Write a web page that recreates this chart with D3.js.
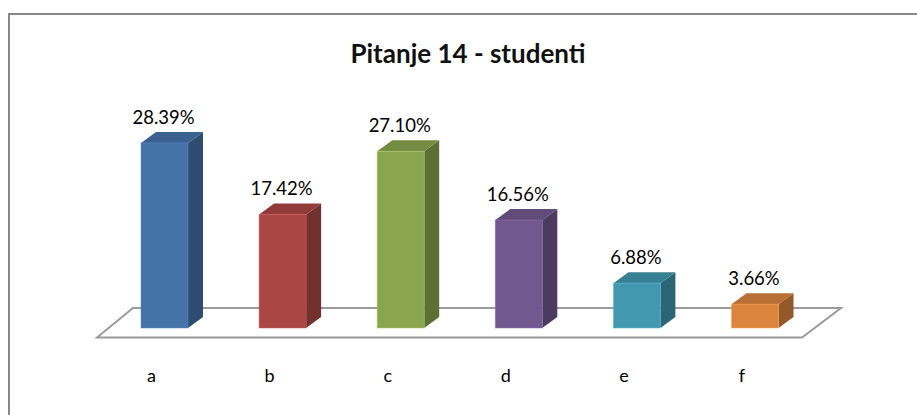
<!DOCTYPE html>
<html>
<head>
<meta charset="utf-8">
<script src="https://cdn.jsdelivr.net/npm/d3@7/dist/d3.min.js"></script>
<style>
  html, body { margin: 0; padding: 0; background: #fff; }
  svg { display: block; }
</style>
</head>
<body>
<svg id="chart" width="917" height="415"></svg>
<script>
// Survey answers for question 14 (students), share of responses in percent
const categories = ["a", "b", "c", "d", "e", "f"];
const values = [28.39, 17.42, 27.10, 16.56, 6.88, 3.66];
const frontColors = ["#4572A7", "#AA4643", "#89A54E", "#71588F", "#4198AF", "#DB843D"];
const sideColors  = ["#2E4C71", "#72302E", "#5C6F35", "#4C3B60", "#2C6676", "#945929"];
const topColors   = ["#3A6190", "#903B39", "#748C42", "#604B79", "#378195", "#BA7034"];
const titleText = "Pitanje 14 - studenti";

const svg = d3.select("#chart");

// chart frame (right and bottom edges run past the visible area)
svg.append("rect")
  .attr("x", 9).attr("y", 14)
  .attr("width", 940).attr("height", 420)
  .attr("fill", "#fff")
  .attr("stroke", "#888")
  .attr("stroke-width", 2);

// title
svg.append("text")
  .attr("x", 468).attr("y", 63)
  .attr("text-anchor", "middle")
  .attr("font-family", "Lato, 'Open Sans', sans-serif")
  .attr("font-weight", "bold")
  .attr("font-size", 26)
  .attr("fill", "#111")
  .text(titleText);

// scales
const x = d3.scalePoint().domain(categories).range([164.5, 755]);
const y = d3.scaleLinear().domain([0, 30]).range([328, 328 - 30 * 6.52]);
const barW = 47;
const dx = 15, dy = 11;   // depth of each 3D column

// floor plane
const floorFront = 337.5, floorBack = 308;
const floorPts = [[97, floorFront], [133, floorBack], [841, floorBack], [802, floorFront]];
svg.append("path")
  .attr("d", d3.line()(floorPts) + "Z")
  .attr("fill", "#fff")
  .attr("stroke", "#9a9a9a")
  .attr("stroke-width", 2)
  .attr("stroke-linejoin", "miter");

const data = categories.map((c, i) => ({ c, v: values[i], i }));

const bars = svg.append("g").selectAll("g.bar")
  .data(data)
  .join("g")
  .attr("class", "bar");

bars.each(function(d) {
  const g = d3.select(this);
  const x0 = x(d.c) - barW / 2, x1 = x0 + barW;
  const yt = y(d.v), yb = y(0);
  // side face
  g.append("path")
    .attr("d", d3.line()([[x1, yt], [x1 + dx, yt - dy], [x1 + dx, yb - dy], [x1, yb]]) + "Z")
    .attr("fill", sideColors[d.i]);
  // top face
  g.append("path")
    .attr("d", d3.line()([[x0, yt], [x0 + dx, yt - dy], [x1 + dx, yt - dy], [x1, yt]]) + "Z")
    .attr("fill", topColors[d.i]);
  // front face
  g.append("rect")
    .attr("x", x0).attr("y", yt)
    .attr("width", barW).attr("height", yb - yt)
    .attr("fill", frontColors[d.i])
    .attr("stroke", d3.color(frontColors[d.i]).brighter(0.6))
    .attr("stroke-opacity", 0.5)
    .attr("stroke-width", 1);
});

// value labels
svg.append("g").selectAll("text")
  .data(data)
  .join("text")
  .attr("x", d => x(d.c) - 1)
  .attr("y", d => y(d.v) - 19)
  .attr("text-anchor", "middle")
  .attr("font-family", "Lato, 'Open Sans', sans-serif")
  .attr("font-size", 18.5)
  .attr("fill", "#000")
  .text(d => d.v.toFixed(2) + "%");

// category labels
svg.append("g").selectAll("text")
  .data(categories)
  .join("text")
  .attr("x", d => x(d) - 13)
  .attr("y", 382)
  .attr("text-anchor", "middle")
  .attr("font-family", "Lato, 'Open Sans', sans-serif")
  .attr("font-size", 18)
  .attr("fill", "#000")
  .text(d => d);
</script>
</body>
</html>
